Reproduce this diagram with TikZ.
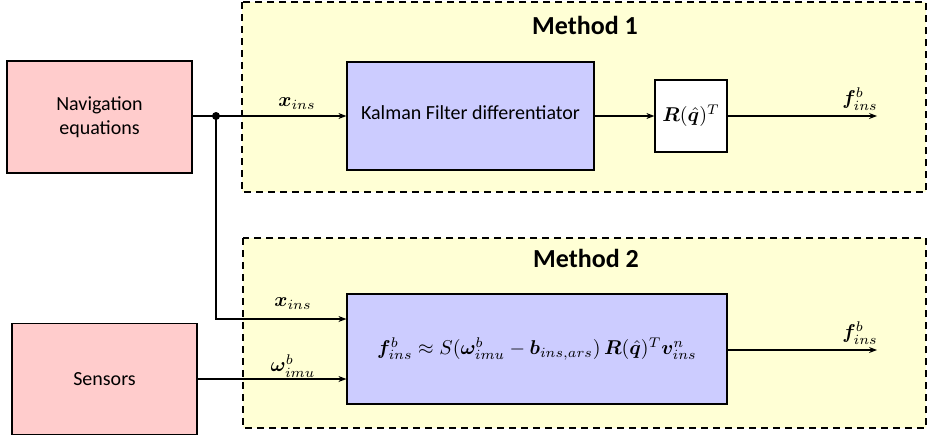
\documentclass[tikz,border=0pt]{standalone}
\usepackage{fontspec}
\setmainfont{Carlito}
\usepackage{amsmath,bm}
\usetikzlibrary{arrows.meta,calc}
\definecolor{pinkfill}{HTML}{FFCCCC}
\definecolor{bluefill}{HTML}{CCCCFF}
\definecolor{yellowfill}{HTML}{FFFFD5}
\begin{document}
\begin{tikzpicture}[x=0.5pt,y=-0.5pt,
  line width=0.6pt,
  >={Stealth[length=4pt,width=3pt]},
  methodbox/.style={draw,fill=yellowfill,dash pattern=on 3.5pt off 2.5pt},
  srcbox/.style={draw,fill=pinkfill,align=center,font=\fontsize{10}{12}\selectfont},
  procbox/.style={draw,fill=bluefill,align=center,font=\fontsize{10}{12}\selectfont},
  plainbox/.style={draw,fill=white},
  title/.style={font=\fontsize{13}{15}\selectfont\bfseries},
  lbl/.style={font=\fontsize{10}{12}\selectfont}
]
\useasboundingbox (0,0) rectangle (929,439);
% method frames
\draw[methodbox] (242,2) rectangle (926,192);
\draw[methodbox] (243,238) rectangle (926,428);
\node[title] (m1) at (585,25) {Method 1};
\node[title] (m2) at (586,258) {Method 2};
% blocks
\node[srcbox,minimum width=92.5pt,minimum height=56pt] (nav) at (99.5,117) {Navigation\\equations};
\node[srcbox,minimum width=92.5pt,minimum height=55.5pt] (sens) at (104.5,379) {Sensors};
\node[procbox,minimum width=123.5pt,minimum height=54pt] (kf) at (470.5,116) {\raisebox{3pt}{Kalman Filter differentiator}};
\node[plainbox,minimum width=36pt,minimum height=36pt,inner sep=0pt] (rot) at (691,116) {$\bm{R}(\hat{\bm{q}})^T$};
\node[procbox,minimum width=190pt,minimum height=55pt] (form) at (537,349)
  {$\bm{f}^b_{ins} \approx S(\bm{\omega}^b_{imu}-\bm{b}_{ins,ars})\,\bm{R}(\hat{\bm{q}})^T\bm{v}^n_{ins}$};
% junction and free ends
\coordinate (j) at (216,116);
\coordinate (xin) at (347,319);
\coordinate (out1) at (877,116);
\coordinate (out2) at (877,350);
% connectors
\draw (nav.east |- j) -- (j);
\draw[->] (j) -- (kf.west);
\fill (j) circle (2pt);
\draw[->] (kf.east) -- (rot.west);
\draw[->] (rot.east) -- (out1);
\draw[->] (j) |- (form.west |- xin);
\draw[->] (sens.east) -- (sens.east -| form.west);
\draw[->] (form.east |- out2) -- (out2);
% labels
\node[lbl] (l1) at (297,104) {$\bm{x}_{ins}$};
\node[lbl] (l2) at (860,99) {$\bm{f}^b_{ins}$};
\node[lbl] (l3) at (293,304) {$\bm{x}_{ins}$};
\node[lbl] (l4) at (293,366) {$\bm{\omega}^b_{imu}$};
\node[lbl] (l5) at (860,333) {$\bm{f}^b_{ins}$};
\end{tikzpicture}
\end{document}
